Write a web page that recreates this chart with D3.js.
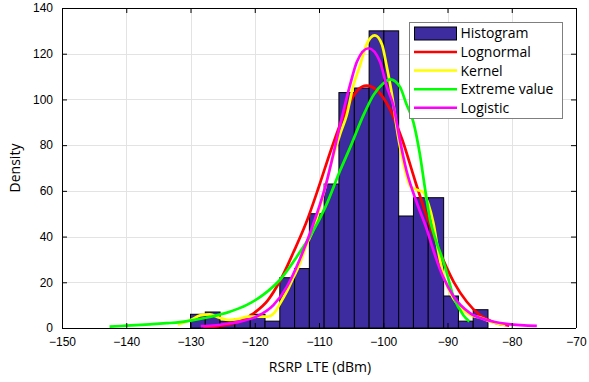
<!DOCTYPE html>
<html><head><meta charset="utf-8">
<script src="https://cdn.jsdelivr.net/npm/d3@7"></script>
<style>body{margin:0;background:#fff}svg{display:block}</style>
</head><body>
<script>
// ---- data ----
const binEdges = [-130, -127.7, -125.4, -123.1, -120.7, -118.4, -116.1, -113.8, -111.5, -109.2, -106.9, -104.5, -102.2, -99.9, -97.6, -95.3, -93.0, -90.6, -88.3, -86.0, -83.7];
const binCounts = [6, 7, 3, 4, 6, 3, 22, 26, 50, 63, 103, 105, 130, 130, 49, 57, 57, 14, 3, 8];

const lognormalX = [-128, -126, -124, -122, -120, -118, -116, -114, -112, -110, -108, -106, -104, -102.6, -101, -99, -97, -95, -93, -91, -89, -87, -85, -83, -80.4];
const lognormalY = [0.3, 0.7, 1.6, 3.3, 6.8, 12, 21, 33, 46, 62, 79, 94, 104, 106, 104, 96, 82, 64, 47, 32, 20, 11.5, 5.8, 2.7, 1.0];

const kernelX = [-132, -130, -128.5, -127, -125.5, -124, -122.5, -121, -119.5, -118, -117, -116, -115, -114, -113, -112, -110.9, -109, -108, -106.7, -105.7, -104.7, -103.6, -102.6, -101.3, -100.2, -99.5, -98.7, -97.7, -96.6, -95.8, -94.8, -93.8, -93, -92.2, -91.4, -90.4, -89.1, -88, -86.5, -84.9, -83.4, -81];
const kernelY = [1.5, 3.5, 5.5, 6, 4.5, 3.5, 4, 5, 5, 5, 6.5, 11, 16, 22, 28, 36, 43, 62, 73, 85, 93, 105.5, 115, 124, 128, 124, 115, 103, 84, 69, 62, 60.5, 59.5, 54.5, 46, 33, 21, 13, 9, 5.7, 4.6, 2.8, 1.2];

const extremeX = [-142.6, -140, -136.3, -133.7, -131.6, -129.8, -127, -124, -121.3, -118.7, -116.1, -113.5, -111, -109, -106.7, -105, -103.1, -101.5, -100, -98.9, -97.4, -96.4, -95.3, -94.3, -93.5, -92.7, -92, -90.4, -89.1, -87.5, -86.6];
const extremeY = [0.6, 1.0, 1.6, 2.1, 2.6, 3.3, 4.8, 7, 10, 14.5, 21, 31, 42, 53, 69, 80, 93, 102, 107, 108.8, 105.5, 98, 90, 76, 61, 47, 40, 27, 14, 5.5, 2.8];

const logisticX = [-128.4, -126, -124, -122, -119.7, -117.1, -115, -113, -111.2, -109, -106.7, -105.2, -104.1, -102.3, -100.5, -99.5, -98.4, -97.4, -96.4, -94.8, -93.2, -92.2, -90.7, -89.1, -86.5, -83.9, -80.8, -76.1];
const logisticY = [0.8, 1.2, 2, 3, 5, 10, 18, 30, 43, 62, 89, 106, 116.5, 122.4, 116.5, 106, 97, 82, 69, 55, 43, 34, 22.5, 14, 6.5, 3.5, 1.8, 0.9];

const xTicks = [-150, -140, -130, -120, -110, -100, -90, -80, -70];
const yTicks = [0, 20, 40, 60, 80, 100, 120, 140];
const legendLabels = ["Histogram", "Lognormal", "Kernel", "Extreme value", "Logistic"];
const seriesColors = ["#3d2ca0", "#ff0000", "#ffff00", "#00ff00", "#ff00ff"];
const xLabel = "RSRP LTE (dBm)";
const yLabel = "Density";

// ---- chart ----
const W = 589, H = 382;
const m = {left: 62, right: 576, top: 8, bottom: 328};
const svg = d3.select("body").append("svg").attr("width", W).attr("height", H);
const x = d3.scaleLinear().domain([-150, -70]).range([m.left, m.right]);
const y = d3.scaleLinear().domain([0, 140]).range([m.bottom, m.top]);

// grid
const grid = svg.append("g").attr("stroke", "#e3e3e3").attr("stroke-width", 1);
xTicks.forEach(t => grid.append("line").attr("x1", Math.round(x(t)) + 0.5).attr("x2", Math.round(x(t)) + 0.5).attr("y1", m.top).attr("y2", m.bottom));
yTicks.forEach(t => grid.append("line").attr("y1", Math.round(y(t)) + 0.5).attr("y2", Math.round(y(t)) + 0.5).attr("x1", m.left).attr("x2", m.right));

// bars
svg.append("g").selectAll("rect").data(binCounts).join("rect")
  .attr("x", (d, i) => x(binEdges[i]))
  .attr("width", (d, i) => x(binEdges[i + 1]) - x(binEdges[i]))
  .attr("y", d => y(d))
  .attr("height", d => y(0) - y(d))
  .attr("fill", seriesColors[0]).attr("stroke", "#000").attr("stroke-width", 1);

// curves
const line = d3.line().x(d => x(d[0])).y(d => y(d[1])).curve(d3.curveMonotoneX);
const curves = [[lognormalX, lognormalY], [kernelX, kernelY], [extremeX, extremeY], [logisticX, logisticY]];
curves.forEach((c, i) => {
  svg.append("path").datum(c[0].map((v, j) => [v, c[1][j]]))
    .attr("d", line).attr("fill", "none").attr("stroke", seriesColors[i + 1])
    .attr("stroke-width", 2.7).attr("stroke-linejoin", "round");
});

// axes
const fontTick = "'Liberation Sans', Arial, sans-serif";
const xb = svg.append("g").attr("transform", `translate(0,${m.bottom})`)
  .call(d3.axisBottom(x).tickValues(xTicks).tickSize(-5).tickPadding(9).tickFormat(d3.format("d")));
const xt = svg.append("g").attr("transform", `translate(0,${m.top})`)
  .call(d3.axisTop(x).tickValues(xTicks).tickSize(-5).tickFormat(""));
const yl = svg.append("g").attr("transform", `translate(${m.left},0)`)
  .call(d3.axisLeft(y).tickValues(yTicks).tickSize(-5).tickPadding(9));
const yr = svg.append("g").attr("transform", `translate(${m.right},0)`)
  .call(d3.axisRight(y).tickValues(yTicks).tickSize(-5).tickFormat(""));
[xb, xt, yl, yr].forEach(g => {
  g.selectAll("path").attr("stroke", "#000").attr("stroke-width", 1);
  g.selectAll("line").attr("stroke", "#000");
  g.selectAll("text").attr("font-family", fontTick).attr("font-size", 12).attr("fill", "#000");
});
xb.selectAll("path").attr("d", `M${m.left},0.5H${m.right}`);
xt.selectAll("path").attr("d", `M${m.left},0.5H${m.right}`);
yl.selectAll("path").attr("d", `M0.5,${m.top}V${m.bottom}`);
yr.selectAll("path").attr("d", `M0.5,${m.top}V${m.bottom}`);

// axis labels
const fontLab = "'Open Sans', 'Noto Sans', sans-serif";
svg.append("text").attr("x", (m.left + m.right) / 2 + 1).attr("y", 372).attr("text-anchor", "middle")
  .attr("font-family", fontLab).attr("font-size", 14).text(xLabel);
svg.append("text").attr("transform", `translate(20,${(m.top + m.bottom) / 2}) rotate(-90)`).attr("text-anchor", "middle")
  .attr("font-family", fontLab).attr("font-size", 14).text(yLabel);

// legend
const lg = svg.append("g");
lg.append("rect").attr("x", 409.5).attr("y", 22.5).attr("width", 153).attr("height", 96)
  .attr("fill", "#fff").attr("stroke", "#7f7f7f").attr("stroke-width", 1);
const rowY = [33.3, 52, 70.6, 89.2, 107.8];
legendLabels.forEach((lab, i) => {
  if (i === 0) {
    lg.append("rect").attr("x", 414.5).attr("y", 27).attr("width", 42).attr("height", 13)
      .attr("fill", seriesColors[0]).attr("stroke", "#000").attr("stroke-width", 1);
  } else {
    lg.append("line").attr("x1", 414).attr("x2", 457).attr("y1", rowY[i]).attr("y2", rowY[i])
      .attr("stroke", seriesColors[i]).attr("stroke-width", 2.5);
  }
  lg.append("text").attr("x", 460.5).attr("y", rowY[i]).attr("dy", "0.35em")
    .attr("font-family", fontLab).attr("font-size", 14).text(lab);
});
</script>
</body></html>
